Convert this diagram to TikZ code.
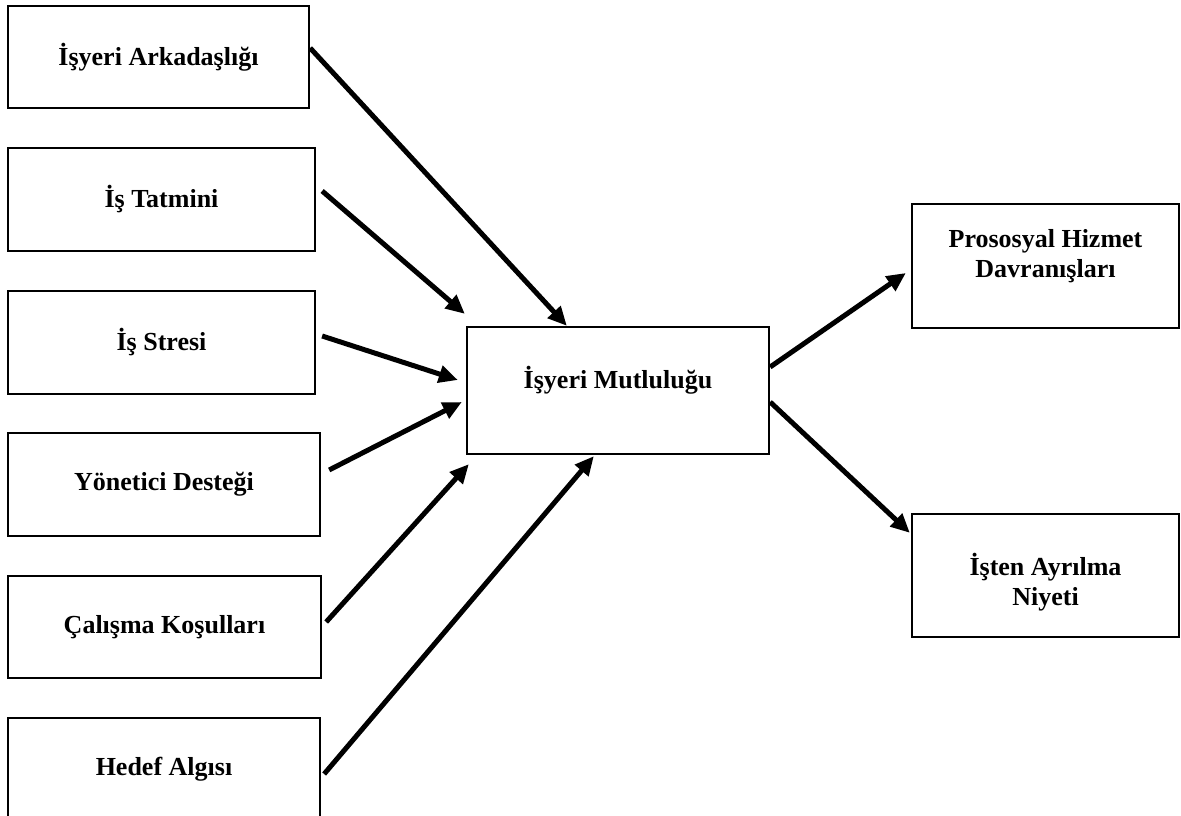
\documentclass[tikz,border=0pt]{standalone}
\usepackage{fontspec}
\setmainfont{Liberation Serif}
\usetikzlibrary{arrows.meta}
\begin{document}
\begin{tikzpicture}[x=1pt,y=-1pt,
  box/.style={draw, line width=2.3pt, inner sep=0pt, align=center,
    font=\bfseries\fontsize{26}{30}\selectfont},
  lbl/.style={align=center, inner sep=0pt, font=\bfseries\fontsize{26}{30}\selectfont},
  arr/.style={line width=5pt, -{Triangle[length=19pt,width=17pt]}}]
\useasboundingbox (0,0) rectangle (1181,816);
\clip (0,0) rectangle (1181,816);
% left boxes
\node[box, minimum width=301pt, minimum height=102pt] (b1) at (158.5,57) {İşyeri Arkadaşlığı};
\node[box, minimum width=307pt, minimum height=103pt] (b2) at (161.5,199.5) {İş Tatmini};
\node[box, minimum width=307pt, minimum height=103pt] (b3) at (161.5,342.5) {İş Stresi};
\node[box, minimum width=312pt, minimum height=103pt] (b4) at (164,484.5) {Yönetici Desteği};
\node[box, minimum width=313pt, minimum height=102pt] (b5) at (164.5,627) {Çalışma Koşulları};
\node[box, minimum width=312pt, minimum height=103pt] (b6) at (164,769.5) {Hedef Algısı};
% centre box
\node[box, minimum width=302pt, minimum height=127pt] (c) at (618,390.5) {};
\node[lbl] (ct) at (618,380) {İşyeri Mutluluğu};
% right boxes
\node[box, minimum width=267pt, minimum height=124pt] (p) at (1045.5,266) {};
\node[lbl] (pt) at (1045.5,256) {Prososyal Hizmet\\Davranışları};
\node[box, minimum width=267pt, minimum height=123pt] (n) at (1045.5,575.5) {};
\node[lbl] (nt) at (1045.5,582) {İşten Ayrılma\\Niyeti};
% arrows into centre
\draw[arr] ([yshift=9pt]b1.east) -- ([xshift=101pt]c.north west);
\draw[arr] ([xshift=6pt,yshift=8.5pt]b2.east) -- ([xshift=-1pt,yshift=12pt]c.north west);
\draw[arr] ([xshift=6pt,yshift=6.5pt]b3.east) -- ([xshift=-8pt,yshift=10.5pt]c.west);
\draw[arr] ([xshift=8pt,yshift=14.5pt]b4.east) -- ([xshift=-4pt,yshift=-11.5pt]c.west);
\draw[arr] ([xshift=4pt,yshift=5pt]b5.east) -- ([xshift=3pt,yshift=-9pt]c.south west);
\draw[arr] ([xshift=3pt,yshift=-4.5pt]b6.east) -- ([xshift=128pt,yshift=-1pt]c.south west);
% arrows out of centre
\draw[arr] ([yshift=23.5pt]c.east) -- ([xshift=-5pt,yshift=-7pt]p.west);
\draw[arr] ([yshift=-11.5pt]c.east) -- ([xshift=-1pt,yshift=-20pt]n.north west);
\end{tikzpicture}
\end{document}
